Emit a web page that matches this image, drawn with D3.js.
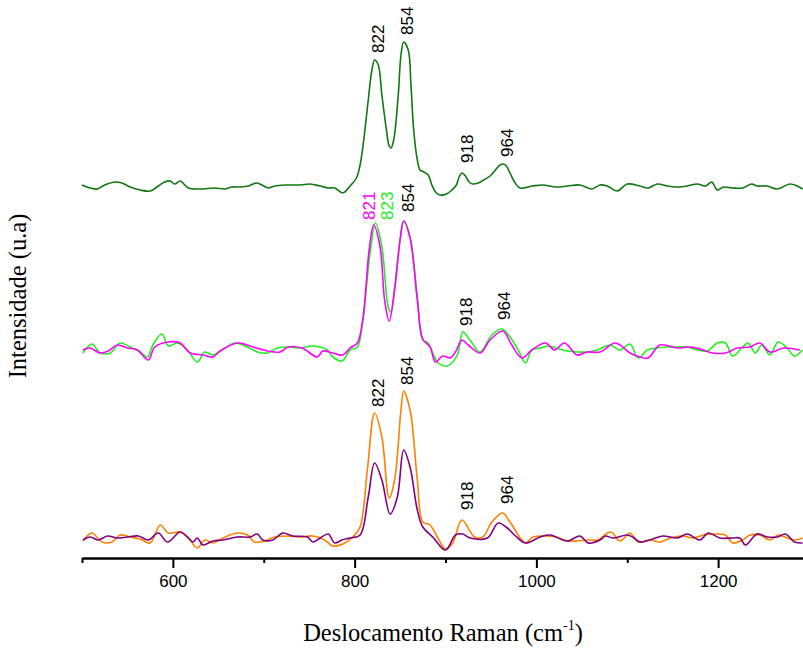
<!DOCTYPE html>
<html><head><meta charset="utf-8">
<script src="https://cdn.jsdelivr.net/npm/d3@7"></script>
<style>
html,body{margin:0;padding:0;background:#fff;}
svg{display:block;}
</style></head>
<body>
<svg id="chart" width="803" height="648"></svg>
<script>
// Raman shift (cm-1) / intensity (a.u., stacked) pairs
const topDarkGreen = [[500,373],[509,370],[517,369],[525,373],[537,376],[544,375],[553,371],[564,368],[575,367],[584,372],[591,376],[597,377],[602,374],[608,377],[617,370],[630,369],[646,370],[657,369],[665,371],[674,371],[683,372],[692,375],[698,373],[705,370],[712,372],[723,373],[740,373],[751,374],[762,372],[771,370],[778,370],[787,365],[795,372],[802,380],[806,393],[810,418],[815,458],[819,488],[822,498],[826,493],[830,463],[835,428],[838,412],[840,410],[843,418],[848,463],[851,503],[854,516],[859,508],[862,473],[865,428],[869,398],[872,388],[876,386],[881,383],[885,373],[890,365],[894,363],[901,364],[907,368],[912,373],[915,381],[918,385],[922,382],[926,376],[930,374],[936,375],[942,378],[949,382],[955,388],[960,393],[964,394],[967,392],[971,385],[976,376],[982,370],[996,372],[1007,373],[1022,371],[1034,372],[1048,373],[1061,369],[1070,373],[1078,372],[1089,367],[1100,374],[1114,372],[1123,370],[1133,374],[1144,372],[1155,371],[1166,372],[1177,374],[1186,372],[1193,376],[1199,368],[1206,371],[1216,370],[1227,370],[1237,374],[1243,372],[1254,372],[1265,369],[1279,374],[1287,372],[1293,369]];

const midLime = [[501,205],[511,214],[520,205],[531,205],[542,215],[553,211],[564,206],[572,201],[578,213],[588,224],[595,212],[605,215],[616,208],[627,196],[635,206],[644,203],[654,208],[668,215],[682,211],[693,206],[704,205],[715,210],[726,211],[740,210],[754,212],[770,208],[776,201],[786,197],[795,208],[803,211],[809,238],[817,305],[823,335],[830,311],[837,251],[840,246],[844,271],[850,318],[854,337],[861,321],[869,261],[875,218],[881,215],[886,205],[892,195],[902,192],[913,203],[919,226],[927,218],[938,206],[951,223],[962,229],[971,221],[980,208],[988,195],[995,208],[1004,210],[1013,212],[1022,210],[1034,207],[1045,206],[1056,206],[1067,208],[1081,213],[1092,208],[1103,214],[1112,200],[1122,208],[1133,210],[1144,211],[1155,211],[1166,211],[1177,208],[1188,207],[1199,215],[1208,215],[1216,202],[1226,210],[1233,215],[1241,205],[1248,213],[1257,203],[1266,216],[1276,210],[1284,202],[1293,208]];

const midMagenta = [[501,208],[509,210],[520,205],[529,207],[539,213],[550,210],[561,208],[573,198],[580,211],[595,216],[608,215],[619,205],[633,203],[644,201],[652,207],[671,215],[688,211],[704,207],[718,206],[727,211],[742,210],[759,201],[765,207],[776,205],[787,203],[795,210],[803,215],[809,238],[816,308],[821,333],[828,311],[833,258],[838,237],[844,268],[850,318],[854,337],[861,320],[869,258],[875,219],[883,211],[889,196],[897,202],[905,200],[911,206],[918,218],[925,213],[938,205],[949,218],[963,227],[973,213],[984,200],[995,208],[1010,215],[1020,208],[1031,215],[1045,203],[1056,206],[1070,206],[1087,215],[1103,205],[1114,201],[1123,200],[1136,213],[1155,210],[1169,211],[1180,209],[1194,205],[1208,205],[1221,210],[1235,211],[1246,215],[1257,206],[1272,210],[1290,208]];

const lowOrange = [[501,17],[511,25],[522,16],[533,16],[542,23],[553,21],[564,19],[575,15],[586,33],[595,25],[608,26],[617,20],[627,10],[635,18],[644,15],[655,20],[671,25],[682,23],[690,16],[701,17],[712,21],[726,22],[740,21],[754,22],[767,18],[776,12],[787,14],[798,21],[806,31],[814,88],[822,145],[830,121],[838,60],[844,78],[851,148],[854,167],[861,148],[869,78],[875,36],[883,33],[891,21],[900,9],[908,15],[918,38],[932,21],[941,21],[951,36],[963,45],[971,36],[988,15],[996,21],[1011,22],[1022,21],[1034,17],[1045,17],[1056,18],[1067,18],[1082,26],[1092,17],[1103,25],[1112,16],[1125,18],[1136,16],[1147,20],[1161,22],[1172,20],[1184,23],[1197,24],[1208,23],[1216,15],[1227,18],[1235,23],[1246,23],[1257,18],[1266,23],[1276,20],[1284,18],[1293,20]];

const lowPurple = [[501,18],[509,21],[518,18],[528,22],[539,20],[550,21],[562,22],[573,18],[584,25],[594,16],[608,26],[616,21],[622,16],[627,20],[633,13],[644,17],[655,18],[671,21],[685,21],[693,24],[699,18],[710,18],[721,25],[732,22],[748,21],[754,16],[762,20],[771,24],[778,15],[786,18],[795,20],[806,23],[815,61],[822,95],[830,78],[839,44],[847,61],[854,108],[861,91],[869,48],[875,31],[886,21],[900,8],[911,23],[919,24],[927,20],[946,20],[958,35],[968,30],[976,23],[988,15],[1004,21],[1015,23],[1034,17],[1048,22],[1057,15],[1070,18],[1076,22],[1084,20],[1100,23],[1106,21],[1114,16],[1125,18],[1139,22],[1155,20],[1166,24],[1180,18],[1189,25],[1202,20],[1216,20],[1224,20],[1230,13],[1243,24],[1254,21],[1265,21],[1274,24],[1284,16],[1293,15]];

// peak labels: text, shift where label sits, intensity at label foot, colour key
const peakLabels = [
  ["822", 826, 505, "k"], ["854", 857, 523, "k"], ["918", 924, 395, "k"], ["964", 968, 401, "k"],
  ["821", 816, 338, "m"], ["823", 835, 338, "g"], ["854", 859, 346, "k"], ["918", 922, 232, "k"], ["964", 964, 238, "k"],
  ["822", 826, 151, "k"], ["854", 857, 173, "k"], ["918", 924, 48, "k"], ["964", 968, 54, "k"]
];

const majorTicks = [600, 800, 1000, 1200];
const minorTicks = [500, 700, 900, 1100, 1300];
const xTitle = "Deslocamento Raman (cm";
const yTitle = "Intensidade (u.a)";

const colors = {dg:"#117711", g:"#22ee22", m:"#ff00ff", o:"#ff8000", p:"#800080", k:"#000000"};

const svg = d3.select("#chart");
const x = d3.scaleLinear().domain([500, 1300]).range([82, 809]);
const y = d3.scaleLinear().domain([0, 530]).range([558, 28]);

const line = d3.line().x(d => x(d[0])).y(d => y(d[1])).curve(d3.curveCatmullRom.alpha(0.5));

const series = [
  [topDarkGreen, colors.dg],
  [midLime, colors.g],
  [midMagenta, colors.m],
  [lowOrange, colors.o],
  [lowPurple, colors.p]
];
series.forEach(([data, c]) => {
  svg.append("path").datum(data).attr("d", line)
    .attr("fill", "none").attr("stroke", c).attr("stroke-width", 1.6)
    .attr("stroke-linejoin", "round");
});

// labels
svg.selectAll("text.peak").data(peakLabels).enter().append("text")
  .attr("class", "peak")
  .attr("transform", d => `translate(${x(d[1])},${y(d[2])}) rotate(-90)`)
  .attr("dy", "0.36em")
  .attr("text-anchor", "start")
  .attr("font-family", "Liberation Sans, Arial, sans-serif")
  .attr("font-size", 17)
  .attr("fill", d => colors[d[3]])
  .text(d => d[0]);

// axes
const gMinor = svg.append("g").attr("transform", `translate(0,${y(0)})`)
  .call(d3.axisBottom(x).tickValues(minorTicks).tickSize(5).tickSizeOuter(0).tickFormat(""));
const gMajor = svg.append("g").attr("transform", `translate(0,${y(0)})`)
  .call(d3.axisBottom(x).tickValues(majorTicks).tickSize(10).tickSizeOuter(0).tickPadding(7).tickFormat(d3.format("d")));
[gMinor, gMajor].forEach(g => {
  g.select(".domain").attr("stroke", "#000").attr("stroke-width", 2);
  g.selectAll(".tick line").attr("stroke", "#000").attr("stroke-width", 2);
  g.selectAll(".tick text").attr("fill", "#000")
    .attr("font-family", "Liberation Sans, Arial, sans-serif").attr("font-size", 17);
});

// titles
const xt = svg.append("text").attr("x", 443).attr("y", 641).attr("text-anchor", "middle")
  .attr("font-family", "Liberation Serif, Times New Roman, serif").attr("font-size", 24.5).attr("fill", "#000");
xt.append("tspan").text(xTitle);
xt.append("tspan").attr("font-size", 14).attr("dy", -11).text("-1");
xt.append("tspan").attr("dy", 11).text(")");

svg.append("text").attr("transform", "translate(26,296) rotate(-90)").attr("text-anchor", "middle")
  .attr("font-family", "Liberation Serif, Times New Roman, serif").attr("font-size", 24.5).attr("fill", "#000")
  .text(yTitle);
</script>
</body></html>
